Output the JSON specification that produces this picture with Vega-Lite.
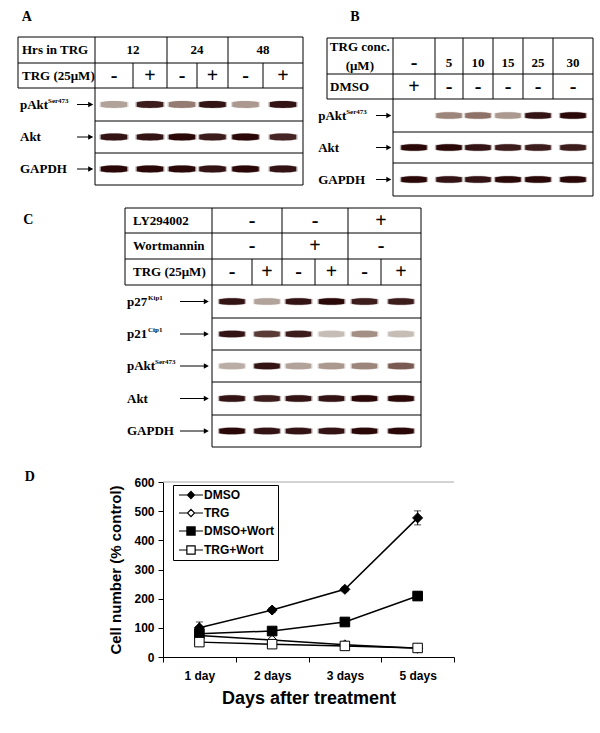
{
  "$schema": "https://vega.github.io/schema/vega-lite/v6.json",
  "width": 291,
  "height": 175,
  "autosize": {"type": "none"},
  "padding": {"left": 163, "top": 482, "right": 146, "bottom": 76},
  "background": "white",
  "config": {
    "view": {"stroke": null},
    "text": {"font": "Liberation Serif", "fontWeight": "bold", "fontSize": 13, "color": "black"},
    "rule": {"color": "black", "strokeWidth": 1},
    "axis": {"labelFont": "Liberation Sans", "labelFontSize": 12, "labelFontWeight": "bold", "labelColor": "black", "titleFont": "Liberation Sans", "titleFontWeight": "bold", "titleColor": "black", "domainColor": "black", "tickColor": "black", "tickSize": 5, "grid": false},
    "axisX": {"labelPadding": 8, "titleFontSize": 18, "titlePadding": 8},
    "axisY": {"labelPadding": 4, "titleFontSize": 15, "titlePadding": 10, "tickCount": 7}
  },
  "datasets": {
    "grid_h": [
      {"panel": "A", "row": 0.5, "lane": -1, "lane2": 6.5},
      {"panel": "A", "row": 1.5, "lane": -1, "lane2": 6.5},
      {"panel": "A", "row": 2.5, "lane": -1, "lane2": 6.5},
      {"panel": "A", "row": 3.5, "lane": 0.5, "lane2": 6.5},
      {"panel": "A", "row": 4.5, "lane": 0.5, "lane2": 6.5},
      {"panel": "A", "row": 5.5, "lane": 0.5, "lane2": 6.5},
      {"panel": "B", "row": 0.5, "lane": -1, "lane2": 6.5},
      {"panel": "B", "row": 1.5, "lane": -1, "lane2": 6.5},
      {"panel": "B", "row": 2.5, "lane": -1, "lane2": 6.5},
      {"panel": "B", "row": 3.5, "lane": 0.5, "lane2": 6.5},
      {"panel": "B", "row": 4.5, "lane": 0.5, "lane2": 6.5},
      {"panel": "B", "row": 5.5, "lane": 0.5, "lane2": 6.5},
      {"panel": "C", "row": 0.5, "lane": -1, "lane2": 6.5},
      {"panel": "C", "row": 1.5, "lane": -1, "lane2": 6.5},
      {"panel": "C", "row": 2.5, "lane": -1, "lane2": 6.5},
      {"panel": "C", "row": 3.5, "lane": -1, "lane2": 6.5},
      {"panel": "C", "row": 4.5, "lane": 0.5, "lane2": 6.5},
      {"panel": "C", "row": 5.5, "lane": 0.5, "lane2": 6.5},
      {"panel": "C", "row": 6.5, "lane": 0.5, "lane2": 6.5},
      {"panel": "C", "row": 7.5, "lane": 0.5, "lane2": 6.5},
      {"panel": "C", "row": 8.5, "lane": 0.5, "lane2": 6.5}
    ],
    "grid_v": [
      {"panel": "A", "lane": -1, "row": 0.5, "row2": 2.5},
      {"panel": "A", "lane": 0.5, "row": 0.5, "row2": 5.5},
      {"panel": "A", "lane": 1.5, "row": 1.5, "row2": 2.5},
      {"panel": "A", "lane": 2.5, "row": 0.5, "row2": 2.5},
      {"panel": "A", "lane": 3.5, "row": 1.5, "row2": 2.5},
      {"panel": "A", "lane": 4.5, "row": 0.5, "row2": 2.5},
      {"panel": "A", "lane": 5.5, "row": 1.5, "row2": 2.5},
      {"panel": "A", "lane": 6.5, "row": 0.5, "row2": 5.5},
      {"panel": "B", "lane": -1, "row": 0.5, "row2": 2.5},
      {"panel": "B", "lane": 0.5, "row": 0.5, "row2": 5.5},
      {"panel": "B", "lane": 1.5, "row": 0.5, "row2": 2.5},
      {"panel": "B", "lane": 2.5, "row": 0.5, "row2": 2.5},
      {"panel": "B", "lane": 3.5, "row": 0.5, "row2": 2.5},
      {"panel": "B", "lane": 4.5, "row": 0.5, "row2": 2.5},
      {"panel": "B", "lane": 5.5, "row": 0.5, "row2": 2.5},
      {"panel": "B", "lane": 6.5, "row": 0.5, "row2": 5.5},
      {"panel": "C", "lane": -1, "row": 0.5, "row2": 3.5},
      {"panel": "C", "lane": 0.5, "row": 0.5, "row2": 8.5},
      {"panel": "C", "lane": 1.5, "row": 2.5, "row2": 3.5},
      {"panel": "C", "lane": 2.5, "row": 0.5, "row2": 3.5},
      {"panel": "C", "lane": 3.5, "row": 2.5, "row2": 3.5},
      {"panel": "C", "lane": 4.5, "row": 0.5, "row2": 3.5},
      {"panel": "C", "lane": 5.5, "row": 2.5, "row2": 3.5},
      {"panel": "C", "lane": 6.5, "row": 0.5, "row2": 8.5}
    ],
    "heads": [
      {"panel": "A", "row": 1, "lane": 1.5, "text": "12"},
      {"panel": "A", "row": 1, "lane": 3.5, "text": "24"},
      {"panel": "A", "row": 1, "lane": 5.5, "text": "48"},
      {"panel": "A", "row": 2, "lane": 1, "text": "-"},
      {"panel": "A", "row": 2, "lane": 2, "text": "+"},
      {"panel": "A", "row": 2, "lane": 3, "text": "-"},
      {"panel": "A", "row": 2, "lane": 4, "text": "+"},
      {"panel": "A", "row": 2, "lane": 5, "text": "-"},
      {"panel": "A", "row": 2, "lane": 6, "text": "+"},
      {"panel": "B", "row": 1, "lane": 1, "text": "-"},
      {"panel": "B", "row": 1, "lane": 2, "text": "5"},
      {"panel": "B", "row": 1, "lane": 3, "text": "10"},
      {"panel": "B", "row": 1, "lane": 4, "text": "15"},
      {"panel": "B", "row": 1, "lane": 5, "text": "25"},
      {"panel": "B", "row": 1, "lane": 6, "text": "30"},
      {"panel": "B", "row": 2, "lane": 1, "text": "+"},
      {"panel": "B", "row": 2, "lane": 2, "text": "-"},
      {"panel": "B", "row": 2, "lane": 3, "text": "-"},
      {"panel": "B", "row": 2, "lane": 4, "text": "-"},
      {"panel": "B", "row": 2, "lane": 5, "text": "-"},
      {"panel": "B", "row": 2, "lane": 6, "text": "-"},
      {"panel": "C", "row": 1, "lane": 1.5, "text": "-"},
      {"panel": "C", "row": 1, "lane": 3.5, "text": "-"},
      {"panel": "C", "row": 1, "lane": 5.5, "text": "+"},
      {"panel": "C", "row": 2, "lane": 1.5, "text": "-"},
      {"panel": "C", "row": 2, "lane": 3.5, "text": "+"},
      {"panel": "C", "row": 2, "lane": 5.5, "text": "-"},
      {"panel": "C", "row": 3, "lane": 1, "text": "-"},
      {"panel": "C", "row": 3, "lane": 2, "text": "+"},
      {"panel": "C", "row": 3, "lane": 3, "text": "-"},
      {"panel": "C", "row": 3, "lane": 4, "text": "+"},
      {"panel": "C", "row": 3, "lane": 5, "text": "-"},
      {"panel": "C", "row": 3, "lane": 6, "text": "+"}
    ],
    "hlabels": [
      {"panel": "A", "row": 1, "text": "Hrs in TRG"},
      {"panel": "A", "row": 2, "text": "TRG (25μM)"},
      {"panel": "B", "row": 1, "text": "TRG conc.\n(μM)"},
      {"panel": "B", "row": 2, "text": "DMSO"},
      {"panel": "C", "row": 1, "text": "LY294002"},
      {"panel": "C", "row": 2, "text": "Wortmannin"},
      {"panel": "C", "row": 3, "text": "TRG (25μM)"}
    ],
    "rlabels": [
      {"panel": "A", "row": 3, "label": "pAkt", "sup": "Ser473"},
      {"panel": "A", "row": 4, "label": "Akt", "sup": ""},
      {"panel": "A", "row": 5, "label": "GAPDH", "sup": ""},
      {"panel": "B", "row": 3, "label": "pAkt", "sup": "Ser473"},
      {"panel": "B", "row": 4, "label": "Akt", "sup": ""},
      {"panel": "B", "row": 5, "label": "GAPDH", "sup": ""},
      {"panel": "C", "row": 4, "label": "p27", "sup": "Kip1"},
      {"panel": "C", "row": 5, "label": "p21", "sup": "Cip1"},
      {"panel": "C", "row": 6, "label": "pAkt", "sup": "Ser473"},
      {"panel": "C", "row": 7, "label": "Akt", "sup": ""},
      {"panel": "C", "row": 8, "label": "GAPDH", "sup": ""}
    ],
    "letters": [
      {"panel": "A", "letter": "A"},
      {"panel": "B", "letter": "B"},
      {"panel": "C", "letter": "C"},
      {"panel": "D", "letter": "D"}
    ],
    "bands": [
      {"panel": "A", "row": 3, "lane": 1, "signal": 0.25},
      {"panel": "A", "row": 3, "lane": 2, "signal": 0.9},
      {"panel": "A", "row": 3, "lane": 3, "signal": 0.45},
      {"panel": "A", "row": 3, "lane": 4, "signal": 0.95},
      {"panel": "A", "row": 3, "lane": 5, "signal": 0.3},
      {"panel": "A", "row": 3, "lane": 6, "signal": 0.95},
      {"panel": "A", "row": 4, "lane": 1, "signal": 0.95},
      {"panel": "A", "row": 4, "lane": 2, "signal": 0.95},
      {"panel": "A", "row": 4, "lane": 3, "signal": 1},
      {"panel": "A", "row": 4, "lane": 4, "signal": 0.9},
      {"panel": "A", "row": 4, "lane": 5, "signal": 1},
      {"panel": "A", "row": 4, "lane": 6, "signal": 0.85},
      {"panel": "A", "row": 5, "lane": 1, "signal": 1},
      {"panel": "A", "row": 5, "lane": 2, "signal": 1},
      {"panel": "A", "row": 5, "lane": 3, "signal": 1},
      {"panel": "A", "row": 5, "lane": 4, "signal": 0.95},
      {"panel": "A", "row": 5, "lane": 5, "signal": 1},
      {"panel": "A", "row": 5, "lane": 6, "signal": 0.95},
      {"panel": "B", "row": 3, "lane": 2, "signal": 0.4},
      {"panel": "B", "row": 3, "lane": 3, "signal": 0.5},
      {"panel": "B", "row": 3, "lane": 4, "signal": 0.3},
      {"panel": "B", "row": 3, "lane": 5, "signal": 0.95},
      {"panel": "B", "row": 3, "lane": 6, "signal": 1},
      {"panel": "B", "row": 4, "lane": 1, "signal": 1},
      {"panel": "B", "row": 4, "lane": 2, "signal": 1},
      {"panel": "B", "row": 4, "lane": 3, "signal": 0.95},
      {"panel": "B", "row": 4, "lane": 4, "signal": 0.9},
      {"panel": "B", "row": 4, "lane": 5, "signal": 0.9},
      {"panel": "B", "row": 4, "lane": 6, "signal": 0.9},
      {"panel": "B", "row": 5, "lane": 1, "signal": 1},
      {"panel": "B", "row": 5, "lane": 2, "signal": 0.95},
      {"panel": "B", "row": 5, "lane": 3, "signal": 0.95},
      {"panel": "B", "row": 5, "lane": 4, "signal": 1},
      {"panel": "B", "row": 5, "lane": 5, "signal": 1},
      {"panel": "B", "row": 5, "lane": 6, "signal": 1},
      {"panel": "C", "row": 4, "lane": 1, "signal": 0.95},
      {"panel": "C", "row": 4, "lane": 2, "signal": 0.25},
      {"panel": "C", "row": 4, "lane": 3, "signal": 0.95},
      {"panel": "C", "row": 4, "lane": 4, "signal": 1},
      {"panel": "C", "row": 4, "lane": 5, "signal": 0.9},
      {"panel": "C", "row": 4, "lane": 6, "signal": 0.9},
      {"panel": "C", "row": 5, "lane": 1, "signal": 0.95},
      {"panel": "C", "row": 5, "lane": 2, "signal": 0.75},
      {"panel": "C", "row": 5, "lane": 3, "signal": 0.9},
      {"panel": "C", "row": 5, "lane": 4, "signal": 0.12},
      {"panel": "C", "row": 5, "lane": 5, "signal": 0.35},
      {"panel": "C", "row": 5, "lane": 6, "signal": 0.12},
      {"panel": "C", "row": 6, "lane": 1, "signal": 0.2},
      {"panel": "C", "row": 6, "lane": 2, "signal": 0.95},
      {"panel": "C", "row": 6, "lane": 3, "signal": 0.25},
      {"panel": "C", "row": 6, "lane": 4, "signal": 0.3},
      {"panel": "C", "row": 6, "lane": 5, "signal": 0.4},
      {"panel": "C", "row": 6, "lane": 6, "signal": 0.6},
      {"panel": "C", "row": 7, "lane": 1, "signal": 0.95},
      {"panel": "C", "row": 7, "lane": 2, "signal": 0.9},
      {"panel": "C", "row": 7, "lane": 3, "signal": 0.95},
      {"panel": "C", "row": 7, "lane": 4, "signal": 0.95},
      {"panel": "C", "row": 7, "lane": 5, "signal": 1},
      {"panel": "C", "row": 7, "lane": 6, "signal": 1},
      {"panel": "C", "row": 8, "lane": 1, "signal": 1},
      {"panel": "C", "row": 8, "lane": 2, "signal": 0.95},
      {"panel": "C", "row": 8, "lane": 3, "signal": 0.95},
      {"panel": "C", "row": 8, "lane": 4, "signal": 0.95},
      {"panel": "C", "row": 8, "lane": 5, "signal": 1},
      {"panel": "C", "row": 8, "lane": 6, "signal": 1}
    ],
    "growth": [
      {"series": "DMSO", "day": "1 day", "value": 100, "err": 20},
      {"series": "DMSO", "day": "2 days", "value": 161, "err": 8},
      {"series": "DMSO", "day": "3 days", "value": 232, "err": 8},
      {"series": "DMSO", "day": "5 days", "value": 477, "err": 24},
      {"series": "TRG", "day": "1 day", "value": 74, "err": 0},
      {"series": "TRG", "day": "2 days", "value": 58, "err": 0},
      {"series": "TRG", "day": "3 days", "value": 42, "err": 5},
      {"series": "TRG", "day": "5 days", "value": 30, "err": 0},
      {"series": "DMSO+Wort", "day": "1 day", "value": 80, "err": 0},
      {"series": "DMSO+Wort", "day": "2 days", "value": 89, "err": 0},
      {"series": "DMSO+Wort", "day": "3 days", "value": 120, "err": 6},
      {"series": "DMSO+Wort", "day": "5 days", "value": 209, "err": 15},
      {"series": "TRG+Wort", "day": "1 day", "value": 51, "err": 0},
      {"series": "TRG+Wort", "day": "2 days", "value": 44, "err": 0},
      {"series": "TRG+Wort", "day": "3 days", "value": 38, "err": 0},
      {"series": "TRG+Wort", "day": "5 days", "value": 31, "err": 0}
    ]
  },
  "layer": [
    {
      "layer": [
        {"data": {"name": "grid_h"}, "transform": [{"filter": "datum.panel == 'A'"}], "mark": "rule", "encoding": {
          "x": {"field": "lane", "type": "quantitative", "axis": null, "scale": {"domain": [-1, 0, 0.5, 1.5, 2.5, 3.5, 4.5, 5.5, 6.5], "range": [-145, -86, -68, -30, 4, 34, 65, 100, 140], "nice": false, "zero": false}},
          "x2": {"field": "lane2"},
          "y": {"field": "row", "type": "quantitative", "axis": null, "scale": {"domain": [0.5, 1.5, 2.5, 3.5, 4.5, 5.5], "range": [-445, -419, -394, -361, -329, -297], "nice": false, "zero": false}}}},
        {"data": {"name": "grid_v"}, "transform": [{"filter": "datum.panel == 'A'"}], "mark": "rule", "encoding": {
          "x": {"field": "lane", "type": "quantitative", "axis": null, "scale": {"domain": [-1, 0, 0.5, 1.5, 2.5, 3.5, 4.5, 5.5, 6.5], "range": [-145, -86, -68, -30, 4, 34, 65, 100, 140], "nice": false, "zero": false}},
          "y": {"field": "row", "type": "quantitative", "axis": null, "scale": {"domain": [0.5, 1.5, 2.5, 3.5, 4.5, 5.5], "range": [-445, -419, -394, -361, -329, -297], "nice": false, "zero": false}},
          "y2": {"field": "row2"}}},
        {"data": {"name": "bands"}, "transform": [{"filter": "datum.panel == 'A'"}], "mark": {"type": "point", "shape": "M-1,-0.17C-0.5,-0.29 0.5,-0.29 1,-0.17L1,0.17C0.5,0.29 -0.5,0.29 -1,0.17Z", "size": 860, "filled": true, "opacity": 0.3}, "encoding": {
          "x": {"field": "lane", "type": "quantitative", "axis": null, "scale": {"domain": [-1, 0, 0.5, 1.5, 2.5, 3.5, 4.5, 5.5, 6.5], "range": [-145, -86, -68, -30, 4, 34, 65, 100, 140], "nice": false, "zero": false}},
          "y": {"field": "row", "type": "quantitative", "axis": null, "scale": {"domain": [0.5, 1.5, 2.5, 3.5, 4.5, 5.5], "range": [-445, -419, -394, -361, -329, -297], "nice": false, "zero": false}},
          "fill": {"field": "signal", "type": "quantitative", "legend": null, "scale": {"domain": [0, 0.5, 1], "range": ["#d9d5d2", "#8e7268", "#2a0808"]}}}},
        {"data": {"name": "bands"}, "transform": [{"filter": "datum.panel == 'A'"}], "mark": {"type": "point", "shape": "M-1,-0.17C-0.5,-0.29 0.5,-0.29 1,-0.17L1,0.17C0.5,0.29 -0.5,0.29 -1,0.17Z", "size": 700, "filled": true, "opacity": 1}, "encoding": {
          "x": {"field": "lane", "type": "quantitative", "axis": null, "scale": {"domain": [-1, 0, 0.5, 1.5, 2.5, 3.5, 4.5, 5.5, 6.5], "range": [-145, -86, -68, -30, 4, 34, 65, 100, 140], "nice": false, "zero": false}},
          "y": {"field": "row", "type": "quantitative", "axis": null, "scale": {"domain": [0.5, 1.5, 2.5, 3.5, 4.5, 5.5], "range": [-445, -419, -394, -361, -329, -297], "nice": false, "zero": false}},
          "fill": {"field": "signal", "type": "quantitative", "legend": null, "scale": {"domain": [0, 0.5, 1], "range": ["#d9d5d2", "#8e7268", "#2a0808"]}}}},
        {"data": {"name": "heads"}, "transform": [{"filter": "datum.panel == 'A' && (datum.text == '+' || datum.text == '-')"}], "mark": {"type": "text", "fontSize": 20}, "encoding": {
          "x": {"field": "lane", "type": "quantitative", "axis": null, "scale": {"domain": [-1, 0, 0.5, 1.5, 2.5, 3.5, 4.5, 5.5, 6.5], "range": [-145, -86, -68, -30, 4, 34, 65, 100, 140], "nice": false, "zero": false}},
          "y": {"field": "row", "type": "quantitative", "axis": null, "scale": {"domain": [0.5, 1.5, 2.5, 3.5, 4.5, 5.5], "range": [-445, -419, -394, -361, -329, -297], "nice": false, "zero": false}},
          "text": {"field": "text"}}},
        {"data": {"name": "heads"}, "transform": [{"filter": "datum.panel == 'A' && datum.text != '+' && datum.text != '-'"}], "mark": {"type": "text"}, "encoding": {
          "x": {"field": "lane", "type": "quantitative", "axis": null, "scale": {"domain": [-1, 0, 0.5, 1.5, 2.5, 3.5, 4.5, 5.5, 6.5], "range": [-145, -86, -68, -30, 4, 34, 65, 100, 140], "nice": false, "zero": false}},
          "y": {"field": "row", "type": "quantitative", "axis": null, "scale": {"domain": [0.5, 1.5, 2.5, 3.5, 4.5, 5.5], "range": [-445, -419, -394, -361, -329, -297], "nice": false, "zero": false}},
          "text": {"field": "text"}}},
        {"data": {"name": "hlabels"}, "transform": [{"filter": "datum.panel == 'A'"}], "mark": {"type": "text", "align": "left", "dx": 4}, "encoding": {
          "x": {"datum": -1, "type": "quantitative", "axis": null, "scale": {"domain": [-1, 0, 0.5, 1.5, 2.5, 3.5, 4.5, 5.5, 6.5], "range": [-145, -86, -68, -30, 4, 34, 65, 100, 140], "nice": false, "zero": false}},
          "y": {"field": "row", "type": "quantitative", "axis": null, "scale": {"domain": [0.5, 1.5, 2.5, 3.5, 4.5, 5.5], "range": [-445, -419, -394, -361, -329, -297], "nice": false, "zero": false}},
          "text": {"field": "text"}}},
        {"data": {"name": "rlabels"}, "transform": [{"filter": "datum.panel == 'A'"}], "mark": {"type": "text", "align": "left", "dx": 2}, "encoding": {
          "x": {"datum": -1, "type": "quantitative", "axis": null, "scale": {"domain": [-1, 0, 0.5, 1.5, 2.5, 3.5, 4.5, 5.5, 6.5], "range": [-145, -86, -68, -30, 4, 34, 65, 100, 140], "nice": false, "zero": false}},
          "y": {"field": "row", "type": "quantitative", "axis": null, "scale": {"domain": [0.5, 1.5, 2.5, 3.5, 4.5, 5.5], "range": [-445, -419, -394, -361, -329, -297], "nice": false, "zero": false}},
          "text": {"field": "label"}}},
        {"data": {"name": "rlabels"}, "transform": [{"filter": "datum.panel == 'A' && datum.sup != ''"}], "mark": {"type": "text", "align": "left", "dx": 30, "dy": -4, "fontSize": 7}, "encoding": {
          "x": {"datum": -1, "type": "quantitative", "axis": null, "scale": {"domain": [-1, 0, 0.5, 1.5, 2.5, 3.5, 4.5, 5.5, 6.5], "range": [-145, -86, -68, -30, 4, 34, 65, 100, 140], "nice": false, "zero": false}},
          "y": {"field": "row", "type": "quantitative", "axis": null, "scale": {"domain": [0.5, 1.5, 2.5, 3.5, 4.5, 5.5], "range": [-445, -419, -394, -361, -329, -297], "nice": false, "zero": false}},
          "text": {"field": "sup"}}},
        {"data": {"name": "rlabels"}, "transform": [{"filter": "datum.panel == 'A'"}], "mark": "rule", "encoding": {
          "x": {"datum": 0, "type": "quantitative", "axis": null, "scale": {"domain": [-1, 0, 0.5, 1.5, 2.5, 3.5, 4.5, 5.5, 6.5], "range": [-145, -86, -68, -30, 4, 34, 65, 100, 140], "nice": false, "zero": false}},
          "x2": {"datum": 0.42},
          "y": {"field": "row", "type": "quantitative", "axis": null, "scale": {"domain": [0.5, 1.5, 2.5, 3.5, 4.5, 5.5], "range": [-445, -419, -394, -361, -329, -297], "nice": false, "zero": false}}}},
        {"data": {"name": "rlabels"}, "transform": [{"filter": "datum.panel == 'A'"}], "mark": {"type": "point", "shape": "M-1,-0.55L0,0L-1,0.55Z", "size": 100, "filled": true, "color": "black", "opacity": 1}, "encoding": {
          "x": {"datum": 0.45, "type": "quantitative", "axis": null, "scale": {"domain": [-1, 0, 0.5, 1.5, 2.5, 3.5, 4.5, 5.5, 6.5], "range": [-145, -86, -68, -30, 4, 34, 65, 100, 140], "nice": false, "zero": false}},
          "y": {"field": "row", "type": "quantitative", "axis": null, "scale": {"domain": [0.5, 1.5, 2.5, 3.5, 4.5, 5.5], "range": [-445, -419, -394, -361, -329, -297], "nice": false, "zero": false}}}},
        {"data": {"name": "letters"}, "transform": [{"filter": "datum.panel == 'A'"}], "mark": {"type": "text", "fontSize": 14}, "encoding": {
          "x": {"datum": -0.85, "type": "quantitative", "axis": null, "scale": {"domain": [-1, 0, 0.5, 1.5, 2.5, 3.5, 4.5, 5.5, 6.5], "range": [-145, -86, -68, -30, 4, 34, 65, 100, 140], "nice": false, "zero": false}},
          "y": {"datum": -0.27, "type": "quantitative", "axis": null, "scale": {"domain": [0.5, 1.5, 2.5, 3.5, 4.5, 5.5], "range": [-445, -419, -394, -361, -329, -297], "nice": false, "zero": false}},
          "text": {"field": "letter"}}}
      ]
    },
    {
      "layer": [
        {"data": {"name": "grid_h"}, "transform": [{"filter": "datum.panel == 'B'"}], "mark": "rule", "encoding": {
          "x": {"field": "lane", "type": "quantitative", "axis": null, "scale": {"domain": [-1, 0, 0.5, 1.5, 2.5, 3.5, 4.5, 5.5, 6.5], "range": [164, 213, 230, 272, 300, 330, 360, 390, 430], "nice": false, "zero": false}},
          "x2": {"field": "lane2"},
          "y": {"field": "row", "type": "quantitative", "axis": null, "scale": {"domain": [0.5, 1.5, 2.5, 3.5, 4.5, 5.5], "range": [-444, -408, -383, -350, -319, -286], "nice": false, "zero": false}}}},
        {"data": {"name": "grid_v"}, "transform": [{"filter": "datum.panel == 'B'"}], "mark": "rule", "encoding": {
          "x": {"field": "lane", "type": "quantitative", "axis": null, "scale": {"domain": [-1, 0, 0.5, 1.5, 2.5, 3.5, 4.5, 5.5, 6.5], "range": [164, 213, 230, 272, 300, 330, 360, 390, 430], "nice": false, "zero": false}},
          "y": {"field": "row", "type": "quantitative", "axis": null, "scale": {"domain": [0.5, 1.5, 2.5, 3.5, 4.5, 5.5], "range": [-444, -408, -383, -350, -319, -286], "nice": false, "zero": false}},
          "y2": {"field": "row2"}}},
        {"data": {"name": "bands"}, "transform": [{"filter": "datum.panel == 'B'"}], "mark": {"type": "point", "shape": "M-1,-0.17C-0.5,-0.29 0.5,-0.29 1,-0.17L1,0.17C0.5,0.29 -0.5,0.29 -1,0.17Z", "size": 800, "filled": true, "opacity": 0.3}, "encoding": {
          "x": {"field": "lane", "type": "quantitative", "axis": null, "scale": {"domain": [-1, 0, 0.5, 1.5, 2.5, 3.5, 4.5, 5.5, 6.5], "range": [164, 213, 230, 272, 300, 330, 360, 390, 430], "nice": false, "zero": false}},
          "y": {"field": "row", "type": "quantitative", "axis": null, "scale": {"domain": [0.5, 1.5, 2.5, 3.5, 4.5, 5.5], "range": [-444, -408, -383, -350, -319, -286], "nice": false, "zero": false}},
          "fill": {"field": "signal", "type": "quantitative", "legend": null, "scale": {"domain": [0, 0.5, 1], "range": ["#d9d5d2", "#8e7268", "#2a0808"]}}}},
        {"data": {"name": "bands"}, "transform": [{"filter": "datum.panel == 'B'"}], "mark": {"type": "point", "shape": "M-1,-0.17C-0.5,-0.29 0.5,-0.29 1,-0.17L1,0.17C0.5,0.29 -0.5,0.29 -1,0.17Z", "size": 650, "filled": true, "opacity": 1}, "encoding": {
          "x": {"field": "lane", "type": "quantitative", "axis": null, "scale": {"domain": [-1, 0, 0.5, 1.5, 2.5, 3.5, 4.5, 5.5, 6.5], "range": [164, 213, 230, 272, 300, 330, 360, 390, 430], "nice": false, "zero": false}},
          "y": {"field": "row", "type": "quantitative", "axis": null, "scale": {"domain": [0.5, 1.5, 2.5, 3.5, 4.5, 5.5], "range": [-444, -408, -383, -350, -319, -286], "nice": false, "zero": false}},
          "fill": {"field": "signal", "type": "quantitative", "legend": null, "scale": {"domain": [0, 0.5, 1], "range": ["#d9d5d2", "#8e7268", "#2a0808"]}}}},
        {"data": {"name": "heads"}, "transform": [{"filter": "datum.panel == 'B' && datum.row == 1 && datum.text == '-'"}], "mark": {"type": "text", "fontSize": 20, "dy": 7}, "encoding": {
          "x": {"field": "lane", "type": "quantitative", "axis": null, "scale": {"domain": [-1, 0, 0.5, 1.5, 2.5, 3.5, 4.5, 5.5, 6.5], "range": [164, 213, 230, 272, 300, 330, 360, 390, 430], "nice": false, "zero": false}},
          "y": {"field": "row", "type": "quantitative", "axis": null, "scale": {"domain": [0.5, 1.5, 2.5, 3.5, 4.5, 5.5], "range": [-444, -408, -383, -350, -319, -286], "nice": false, "zero": false}},
          "text": {"field": "text"}}},
        {"data": {"name": "heads"}, "transform": [{"filter": "datum.panel == 'B' && datum.row == 1 && datum.text != '-'"}], "mark": {"type": "text", "dy": 7}, "encoding": {
          "x": {"field": "lane", "type": "quantitative", "axis": null, "scale": {"domain": [-1, 0, 0.5, 1.5, 2.5, 3.5, 4.5, 5.5, 6.5], "range": [164, 213, 230, 272, 300, 330, 360, 390, 430], "nice": false, "zero": false}},
          "y": {"field": "row", "type": "quantitative", "axis": null, "scale": {"domain": [0.5, 1.5, 2.5, 3.5, 4.5, 5.5], "range": [-444, -408, -383, -350, -319, -286], "nice": false, "zero": false}},
          "text": {"field": "text"}}},
        {"data": {"name": "heads"}, "transform": [{"filter": "datum.panel == 'B' && datum.row == 2"}], "mark": {"type": "text", "fontSize": 20}, "encoding": {
          "x": {"field": "lane", "type": "quantitative", "axis": null, "scale": {"domain": [-1, 0, 0.5, 1.5, 2.5, 3.5, 4.5, 5.5, 6.5], "range": [164, 213, 230, 272, 300, 330, 360, 390, 430], "nice": false, "zero": false}},
          "y": {"field": "row", "type": "quantitative", "axis": null, "scale": {"domain": [0.5, 1.5, 2.5, 3.5, 4.5, 5.5], "range": [-444, -408, -383, -350, -319, -286], "nice": false, "zero": false}},
          "text": {"field": "text"}}},
        {"data": {"name": "hlabels"}, "transform": [{"filter": "datum.panel == 'B' && datum.row == 1"}], "mark": {"type": "text", "lineBreak": "\n", "lineHeight": 19, "dy": -9}, "encoding": {
          "x": {"datum": -0.33, "type": "quantitative", "axis": null, "scale": {"domain": [-1, 0, 0.5, 1.5, 2.5, 3.5, 4.5, 5.5, 6.5], "range": [164, 213, 230, 272, 300, 330, 360, 390, 430], "nice": false, "zero": false}},
          "y": {"field": "row", "type": "quantitative", "axis": null, "scale": {"domain": [0.5, 1.5, 2.5, 3.5, 4.5, 5.5], "range": [-444, -408, -383, -350, -319, -286], "nice": false, "zero": false}},
          "text": {"field": "text"}}},
        {"data": {"name": "hlabels"}, "transform": [{"filter": "datum.panel == 'B' && datum.row == 2"}], "mark": {"type": "text", "align": "left", "dx": 3}, "encoding": {
          "x": {"datum": -1, "type": "quantitative", "axis": null, "scale": {"domain": [-1, 0, 0.5, 1.5, 2.5, 3.5, 4.5, 5.5, 6.5], "range": [164, 213, 230, 272, 300, 330, 360, 390, 430], "nice": false, "zero": false}},
          "y": {"field": "row", "type": "quantitative", "axis": null, "scale": {"domain": [0.5, 1.5, 2.5, 3.5, 4.5, 5.5], "range": [-444, -408, -383, -350, -319, -286], "nice": false, "zero": false}},
          "text": {"field": "text"}}},
        {"data": {"name": "rlabels"}, "transform": [{"filter": "datum.panel == 'B'"}], "mark": {"type": "text", "align": "left"}, "encoding": {
          "x": {"datum": -1.18, "type": "quantitative", "axis": null, "scale": {"domain": [-1, 0, 0.5, 1.5, 2.5, 3.5, 4.5, 5.5, 6.5], "range": [164, 213, 230, 272, 300, 330, 360, 390, 430], "nice": false, "zero": false}},
          "y": {"field": "row", "type": "quantitative", "axis": null, "scale": {"domain": [0.5, 1.5, 2.5, 3.5, 4.5, 5.5], "range": [-444, -408, -383, -350, -319, -286], "nice": false, "zero": false}},
          "text": {"field": "label"}}},
        {"data": {"name": "rlabels"}, "transform": [{"filter": "datum.panel == 'B' && datum.sup != ''"}], "mark": {"type": "text", "align": "left", "dx": 28, "dy": -4, "fontSize": 7}, "encoding": {
          "x": {"datum": -1.18, "type": "quantitative", "axis": null, "scale": {"domain": [-1, 0, 0.5, 1.5, 2.5, 3.5, 4.5, 5.5, 6.5], "range": [164, 213, 230, 272, 300, 330, 360, 390, 430], "nice": false, "zero": false}},
          "y": {"field": "row", "type": "quantitative", "axis": null, "scale": {"domain": [0.5, 1.5, 2.5, 3.5, 4.5, 5.5], "range": [-444, -408, -383, -350, -319, -286], "nice": false, "zero": false}},
          "text": {"field": "sup"}}},
        {"data": {"name": "rlabels"}, "transform": [{"filter": "datum.panel == 'B'"}], "mark": "rule", "encoding": {
          "x": {"datum": 0, "type": "quantitative", "axis": null, "scale": {"domain": [-1, 0, 0.5, 1.5, 2.5, 3.5, 4.5, 5.5, 6.5], "range": [164, 213, 230, 272, 300, 330, 360, 390, 430], "nice": false, "zero": false}},
          "x2": {"datum": 0.42},
          "y": {"field": "row", "type": "quantitative", "axis": null, "scale": {"domain": [0.5, 1.5, 2.5, 3.5, 4.5, 5.5], "range": [-444, -408, -383, -350, -319, -286], "nice": false, "zero": false}}}},
        {"data": {"name": "rlabels"}, "transform": [{"filter": "datum.panel == 'B'"}], "mark": {"type": "point", "shape": "M-1,-0.55L0,0L-1,0.55Z", "size": 100, "filled": true, "color": "black", "opacity": 1}, "encoding": {
          "x": {"datum": 0.45, "type": "quantitative", "axis": null, "scale": {"domain": [-1, 0, 0.5, 1.5, 2.5, 3.5, 4.5, 5.5, 6.5], "range": [164, 213, 230, 272, 300, 330, 360, 390, 430], "nice": false, "zero": false}},
          "y": {"field": "row", "type": "quantitative", "axis": null, "scale": {"domain": [0.5, 1.5, 2.5, 3.5, 4.5, 5.5], "range": [-444, -408, -383, -350, -319, -286], "nice": false, "zero": false}}}},
        {"data": {"name": "letters"}, "transform": [{"filter": "datum.panel == 'B'"}], "mark": {"type": "text", "fontSize": 14}, "encoding": {
          "x": {"datum": -0.43, "type": "quantitative", "axis": null, "scale": {"domain": [-1, 0, 0.5, 1.5, 2.5, 3.5, 4.5, 5.5, 6.5], "range": [164, 213, 230, 272, 300, 330, 360, 390, 430], "nice": false, "zero": false}},
          "y": {"datum": -0.08, "type": "quantitative", "axis": null, "scale": {"domain": [0.5, 1.5, 2.5, 3.5, 4.5, 5.5], "range": [-444, -408, -383, -350, -319, -286], "nice": false, "zero": false}},
          "text": {"field": "letter"}}}
      ]
    },
    {
      "layer": [
        {"data": {"name": "grid_h"}, "transform": [{"filter": "datum.panel == 'C'"}], "mark": "rule", "encoding": {
          "x": {"field": "lane", "type": "quantitative", "axis": null, "scale": {"domain": [-1, 0, 0.5, 1.5, 2.5, 3.5, 4.5, 5.5, 6.5], "range": [-38, 17, 49, 89, 119, 152, 185, 218, 258], "nice": false, "zero": false}},
          "x2": {"field": "lane2"},
          "y": {"field": "row", "type": "quantitative", "axis": null, "scale": {"domain": [0.5, 1.5, 2.5, 3.5, 4.5, 5.5, 6.5, 7.5, 8.5], "range": [-274, -249, -223, -197, -164, -132, -100, -67, -35], "nice": false, "zero": false}}}},
        {"data": {"name": "grid_v"}, "transform": [{"filter": "datum.panel == 'C'"}], "mark": "rule", "encoding": {
          "x": {"field": "lane", "type": "quantitative", "axis": null, "scale": {"domain": [-1, 0, 0.5, 1.5, 2.5, 3.5, 4.5, 5.5, 6.5], "range": [-38, 17, 49, 89, 119, 152, 185, 218, 258], "nice": false, "zero": false}},
          "y": {"field": "row", "type": "quantitative", "axis": null, "scale": {"domain": [0.5, 1.5, 2.5, 3.5, 4.5, 5.5, 6.5, 7.5, 8.5], "range": [-274, -249, -223, -197, -164, -132, -100, -67, -35], "nice": false, "zero": false}},
          "y2": {"field": "row2"}}},
        {"data": {"name": "bands"}, "transform": [{"filter": "datum.panel == 'C'"}], "mark": {"type": "point", "shape": "M-1,-0.17C-0.5,-0.29 0.5,-0.29 1,-0.17L1,0.17C0.5,0.29 -0.5,0.29 -1,0.17Z", "size": 800, "filled": true, "opacity": 0.3}, "encoding": {
          "x": {"field": "lane", "type": "quantitative", "axis": null, "scale": {"domain": [-1, 0, 0.5, 1.5, 2.5, 3.5, 4.5, 5.5, 6.5], "range": [-38, 17, 49, 89, 119, 152, 185, 218, 258], "nice": false, "zero": false}},
          "y": {"field": "row", "type": "quantitative", "axis": null, "scale": {"domain": [0.5, 1.5, 2.5, 3.5, 4.5, 5.5, 6.5, 7.5, 8.5], "range": [-274, -249, -223, -197, -164, -132, -100, -67, -35], "nice": false, "zero": false}},
          "fill": {"field": "signal", "type": "quantitative", "legend": null, "scale": {"domain": [0, 0.5, 1], "range": ["#d9d5d2", "#8e7268", "#2a0808"]}}}},
        {"data": {"name": "bands"}, "transform": [{"filter": "datum.panel == 'C'"}], "mark": {"type": "point", "shape": "M-1,-0.17C-0.5,-0.29 0.5,-0.29 1,-0.17L1,0.17C0.5,0.29 -0.5,0.29 -1,0.17Z", "size": 650, "filled": true, "opacity": 1}, "encoding": {
          "x": {"field": "lane", "type": "quantitative", "axis": null, "scale": {"domain": [-1, 0, 0.5, 1.5, 2.5, 3.5, 4.5, 5.5, 6.5], "range": [-38, 17, 49, 89, 119, 152, 185, 218, 258], "nice": false, "zero": false}},
          "y": {"field": "row", "type": "quantitative", "axis": null, "scale": {"domain": [0.5, 1.5, 2.5, 3.5, 4.5, 5.5, 6.5, 7.5, 8.5], "range": [-274, -249, -223, -197, -164, -132, -100, -67, -35], "nice": false, "zero": false}},
          "fill": {"field": "signal", "type": "quantitative", "legend": null, "scale": {"domain": [0, 0.5, 1], "range": ["#d9d5d2", "#8e7268", "#2a0808"]}}}},
        {"data": {"name": "heads"}, "transform": [{"filter": "datum.panel == 'C'"}], "mark": {"type": "text", "fontSize": 20}, "encoding": {
          "x": {"field": "lane", "type": "quantitative", "axis": null, "scale": {"domain": [-1, 0, 0.5, 1.5, 2.5, 3.5, 4.5, 5.5, 6.5], "range": [-38, 17, 49, 89, 119, 152, 185, 218, 258], "nice": false, "zero": false}},
          "y": {"field": "row", "type": "quantitative", "axis": null, "scale": {"domain": [0.5, 1.5, 2.5, 3.5, 4.5, 5.5, 6.5, 7.5, 8.5], "range": [-274, -249, -223, -197, -164, -132, -100, -67, -35], "nice": false, "zero": false}},
          "text": {"field": "text"}}},
        {"data": {"name": "hlabels"}, "transform": [{"filter": "datum.panel == 'C'"}], "mark": {"type": "text", "align": "left", "dx": 8}, "encoding": {
          "x": {"datum": -1, "type": "quantitative", "axis": null, "scale": {"domain": [-1, 0, 0.5, 1.5, 2.5, 3.5, 4.5, 5.5, 6.5], "range": [-38, 17, 49, 89, 119, 152, 185, 218, 258], "nice": false, "zero": false}},
          "y": {"field": "row", "type": "quantitative", "axis": null, "scale": {"domain": [0.5, 1.5, 2.5, 3.5, 4.5, 5.5, 6.5, 7.5, 8.5], "range": [-274, -249, -223, -197, -164, -132, -100, -67, -35], "nice": false, "zero": false}},
          "text": {"field": "text"}}},
        {"data": {"name": "rlabels"}, "transform": [{"filter": "datum.panel == 'C'"}], "mark": {"type": "text", "align": "left", "dx": 2}, "encoding": {
          "x": {"datum": -1, "type": "quantitative", "axis": null, "scale": {"domain": [-1, 0, 0.5, 1.5, 2.5, 3.5, 4.5, 5.5, 6.5], "range": [-38, 17, 49, 89, 119, 152, 185, 218, 258], "nice": false, "zero": false}},
          "y": {"field": "row", "type": "quantitative", "axis": null, "scale": {"domain": [0.5, 1.5, 2.5, 3.5, 4.5, 5.5, 6.5, 7.5, 8.5], "range": [-274, -249, -223, -197, -164, -132, -100, -67, -35], "nice": false, "zero": false}},
          "text": {"field": "label"}}},
        {"data": {"name": "rlabels"}, "transform": [{"filter": "datum.panel == 'C' && datum.sup == 'Ser473'"}], "mark": {"type": "text", "align": "left", "dx": 30, "dy": -4, "fontSize": 7}, "encoding": {
          "x": {"datum": -1, "type": "quantitative", "axis": null, "scale": {"domain": [-1, 0, 0.5, 1.5, 2.5, 3.5, 4.5, 5.5, 6.5], "range": [-38, 17, 49, 89, 119, 152, 185, 218, 258], "nice": false, "zero": false}},
          "y": {"field": "row", "type": "quantitative", "axis": null, "scale": {"domain": [0.5, 1.5, 2.5, 3.5, 4.5, 5.5, 6.5, 7.5, 8.5], "range": [-274, -249, -223, -197, -164, -132, -100, -67, -35], "nice": false, "zero": false}},
          "text": {"field": "sup"}}},
        {"data": {"name": "rlabels"}, "transform": [{"filter": "datum.panel == 'C' && (datum.sup == 'Kip1' || datum.sup == 'Cip1')"}], "mark": {"type": "text", "align": "left", "dx": 23, "dy": -4, "fontSize": 7}, "encoding": {
          "x": {"datum": -1, "type": "quantitative", "axis": null, "scale": {"domain": [-1, 0, 0.5, 1.5, 2.5, 3.5, 4.5, 5.5, 6.5], "range": [-38, 17, 49, 89, 119, 152, 185, 218, 258], "nice": false, "zero": false}},
          "y": {"field": "row", "type": "quantitative", "axis": null, "scale": {"domain": [0.5, 1.5, 2.5, 3.5, 4.5, 5.5, 6.5, 7.5, 8.5], "range": [-274, -249, -223, -197, -164, -132, -100, -67, -35], "nice": false, "zero": false}},
          "text": {"field": "sup"}}},
        {"data": {"name": "rlabels"}, "transform": [{"filter": "datum.panel == 'C'"}], "mark": "rule", "encoding": {
          "x": {"datum": 0, "type": "quantitative", "axis": null, "scale": {"domain": [-1, 0, 0.5, 1.5, 2.5, 3.5, 4.5, 5.5, 6.5], "range": [-38, 17, 49, 89, 119, 152, 185, 218, 258], "nice": false, "zero": false}},
          "x2": {"datum": 0.42},
          "y": {"field": "row", "type": "quantitative", "axis": null, "scale": {"domain": [0.5, 1.5, 2.5, 3.5, 4.5, 5.5, 6.5, 7.5, 8.5], "range": [-274, -249, -223, -197, -164, -132, -100, -67, -35], "nice": false, "zero": false}}}},
        {"data": {"name": "rlabels"}, "transform": [{"filter": "datum.panel == 'C'"}], "mark": {"type": "point", "shape": "M-1,-0.55L0,0L-1,0.55Z", "size": 100, "filled": true, "color": "black", "opacity": 1}, "encoding": {
          "x": {"datum": 0.45, "type": "quantitative", "axis": null, "scale": {"domain": [-1, 0, 0.5, 1.5, 2.5, 3.5, 4.5, 5.5, 6.5], "range": [-38, 17, 49, 89, 119, 152, 185, 218, 258], "nice": false, "zero": false}},
          "y": {"field": "row", "type": "quantitative", "axis": null, "scale": {"domain": [0.5, 1.5, 2.5, 3.5, 4.5, 5.5, 6.5, 7.5, 8.5], "range": [-274, -249, -223, -197, -164, -132, -100, -67, -35], "nice": false, "zero": false}}}},
        {"data": {"name": "letters"}, "transform": [{"filter": "datum.panel == 'C'"}], "mark": {"type": "text", "fontSize": 14}, "encoding": {
          "x": {"datum": -2.76, "type": "quantitative", "axis": null, "scale": {"domain": [-1, 0, 0.5, 1.5, 2.5, 3.5, 4.5, 5.5, 6.5], "range": [-38, 17, 49, 89, 119, 152, 185, 218, 258], "nice": false, "zero": false}},
          "y": {"datum": 0.98, "type": "quantitative", "axis": null, "scale": {"domain": [0.5, 1.5, 2.5, 3.5, 4.5, 5.5, 6.5, 7.5, 8.5], "range": [-274, -249, -223, -197, -164, -132, -100, -67, -35], "nice": false, "zero": false}},
          "text": {"field": "letter"}}},
        {"data": {"name": "letters"}, "transform": [{"filter": "datum.panel == 'D'"}], "mark": {"type": "text", "fontSize": 14}, "encoding": {
          "x": {"datum": -2.73, "type": "quantitative", "axis": null, "scale": {"domain": [-1, 0, 0.5, 1.5, 2.5, 3.5, 4.5, 5.5, 6.5], "range": [-38, 17, 49, 89, 119, 152, 185, 218, 258], "nice": false, "zero": false}},
          "y": {"datum": 9.44, "type": "quantitative", "axis": null, "scale": {"domain": [0.5, 1.5, 2.5, 3.5, 4.5, 5.5, 6.5, 7.5, 8.5], "range": [-274, -249, -223, -197, -164, -132, -100, -67, -35], "nice": false, "zero": false}},
          "text": {"field": "letter"}}}
      ]
    },
    {
      "layer": [
        {"data": {"values": [{"edge": "top"}]}, "mark": {"type": "rule", "color": "#a8a8a8"}, "encoding": {
          "y": {"datum": 600, "type": "quantitative", "title": "Cell number (% control)", "scale": {"domain": [0, 600], "nice": false}}}},
        {"data": {"name": "growth"}, "mark": {"type": "line", "color": "black", "strokeWidth": 1.5}, "encoding": {
          "x": {"field": "day", "type": "ordinal", "bandPosition": 0.5, "title": "Days after treatment", "scale": {"type": "band", "domain": ["1 day", "2 days", "3 days", "5 days"], "paddingInner": 0, "paddingOuter": 0}, "axis": {"tickBand": "extent", "labelAngle": 0}},
          "y": {"field": "value", "type": "quantitative", "title": "Cell number (% control)", "scale": {"domain": [0, 600], "nice": false}},
          "detail": {"field": "series"}}},
        {"data": {"name": "growth"}, "transform": [{"filter": "datum.err > 0"}], "mark": {"type": "errorbar", "ticks": {"size": 7}, "color": "black"}, "encoding": {
          "x": {"field": "day", "type": "ordinal", "bandPosition": 0.5, "title": "Days after treatment", "scale": {"type": "band", "domain": ["1 day", "2 days", "3 days", "5 days"], "paddingInner": 0, "paddingOuter": 0}, "axis": {"tickBand": "extent", "labelAngle": 0}},
          "y": {"field": "value", "type": "quantitative", "title": "Cell number (% control)", "scale": {"domain": [0, 600], "nice": false}},
          "yError": {"field": "err"}}},
        {"data": {"name": "growth"}, "mark": {"type": "point", "filled": true, "opacity": 1, "stroke": "black", "strokeWidth": 1}, "encoding": {
          "x": {"field": "day", "type": "ordinal", "bandPosition": 0.5, "title": "Days after treatment", "scale": {"type": "band", "domain": ["1 day", "2 days", "3 days", "5 days"], "paddingInner": 0, "paddingOuter": 0}, "axis": {"tickBand": "extent", "labelAngle": 0}},
          "y": {"field": "value", "type": "quantitative", "title": "Cell number (% control)", "scale": {"domain": [0, 600], "nice": false}},
          "shape": {"field": "series", "type": "nominal", "legend": null, "scale": {"domain": ["DMSO", "TRG", "DMSO+Wort", "TRG+Wort"], "range": ["diamond", "diamond", "square", "square"]}},
          "fill": {"field": "series", "type": "nominal", "legend": null, "scale": {"domain": ["DMSO", "TRG", "DMSO+Wort", "TRG+Wort"], "range": ["black", "white", "black", "white"]}},
          "size": {"field": "series", "type": "nominal", "legend": null, "scale": {"domain": ["DMSO", "TRG", "DMSO+Wort", "TRG+Wort"], "range": [100, 90, 130, 120]}}}},
        {"data": {"values": []}, "mark": {"type": "point", "filled": false, "color": "black", "opacity": 1, "strokeWidth": 1.2}, "encoding": {
          "shape": {"field": "series", "type": "nominal", "scale": {"domain": ["DMSO", "TRG", "DMSO+Wort", "TRG+Wort"], "range": [
              "M-2.03,0H2.03M0,-0.6L0.6,0L0,0.6L-0.6,0ZM0,-0.4L0.4,0L0,0.4L-0.4,0ZM0,-0.2L0.2,0L0,0.2L-0.2,0ZM0,-0.6V0.6",
              "M-2.03,0H-0.6M0.6,0H2.03M0,-0.6L0.6,0L0,0.6L-0.6,0Z",
              "M-2.03,0H2.03M-0.7,-0.7H0.7V0.7H-0.7ZM-0.5,-0.5H0.5V0.5H-0.5ZM-0.3,-0.3H0.3V0.3H-0.3ZM-0.1,-0.1H0.1V0.1H-0.1Z",
              "M-2.03,0H-0.7M0.7,0H2.03M-0.7,-0.7H0.7V0.7H-0.7Z"]},
            "legend": {"orient": "none", "legendX": 10, "legendY": 3, "title": null, "strokeColor": "black", "fillColor": "white", "padding": 3, "symbolSize": 140, "symbolStrokeWidth": 1.2, "symbolStrokeColor": "black", "symbolOffset": 8, "labelFont": "Liberation Sans", "labelFontSize": 12, "labelFontWeight": "bold", "labelColor": "black", "labelOffset": 6, "rowPadding": 5}}}}
      ],
      "resolve": {"scale": {"shape": "independent", "fill": "independent", "size": "independent"}}
    }
  ],
  "resolve": {"scale": {"x": "independent", "y": "independent", "fill": "independent"}}
}
